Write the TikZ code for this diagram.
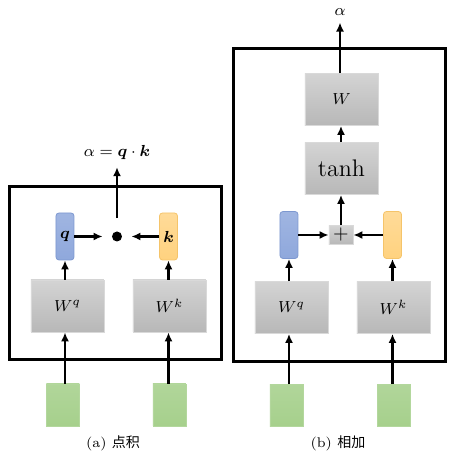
\documentclass[tikz,border=0pt]{standalone}
\usepackage{fontspec}
\usepackage{amsmath,bm}
\newfontfamily\cjk{Noto Sans CJK SC}
\usetikzlibrary{arrows.meta}
\definecolor{qblue}{HTML}{8FA8DC}
\definecolor{qblueline}{HTML}{7D98D0}
\definecolor{kyellow}{HTML}{FFD27F}
\definecolor{kyellowline}{HTML}{F5C46A}
\definecolor{xgreen}{HTML}{A6D08C}
\tikzset{
	wbox/.style={draw=black!15, top color=black!17, bottom color=black!28, minimum width=36.5pt, minimum height=26pt, inner sep=0pt, font=\footnotesize},
	vecq/.style={draw=qblueline, top color=qblue!85, bottom color=qblue, rounded corners=1.5pt, minimum width=9pt, minimum height=23.5pt, inner sep=0pt, font=\footnotesize},
	veck/.style={draw=kyellowline, top color=kyellow!80, bottom color=kyellow, rounded corners=1.5pt, minimum width=9pt, minimum height=23.5pt, inner sep=0pt, font=\footnotesize},
	inbox/.style={draw=xgreen!85, top color=xgreen!88, bottom color=xgreen, minimum width=16.5pt, minimum height=21pt, inner sep=0pt},
	frame/.style={draw, line width=1.5pt},
	link/.style={line width=1.1pt, -{Latex[length=4.5pt,width=4pt]}}
}
\begin{document}
\begin{tikzpicture}[x=0.5pt, y=-0.5pt]
	\useasboundingbox (0,0) rectangle (468,459);
	% (a) dot product
	\draw[frame] (10,187) rectangle (222,360);
	\node[inbox] (xqa) at (63,405) {};
	\node[inbox] (xka) at (169.5,405) {};
	\node[wbox] (wqa) at (67.5,306) {$W^q$};
	\node[wbox] (wka) at (169.5,306) {$W^k$};
	\node[vecq] (qa) at (65,236.5) {$\bm{q}$};
	\node[veck] (ka) at (168.5,236.5) {$\bm{k}$};
	\node[circle, fill, inner sep=0pt, minimum size=5pt] (dota) at (117,236.5) {};
	\node[font=\footnotesize] (alphaa) at (117,153) {$\alpha=\bm{q}\cdot\bm{k}$};
	\node[font=\scriptsize] (capa) at (113,443) {(a) {\cjk 点积}};
	\draw[link] (xqa.north -| qa) -- (wqa.south -| qa);
	\draw[link] (xka.north -| ka) -- (wka.south -| ka);
	\draw[link] (wqa.north -| qa) -- (qa.south);
	\draw[link] (wka.north -| ka) -- (ka.south);
	\draw[link, shorten >=4.5pt] (qa.east) -- (dota.west);
	\draw[link, shorten >=4.5pt] (ka.west) -- (dota.east);
	\draw[link, shorten <=6.5pt] (dota.north) -- (alphaa.south);
	% (b) additive
	\draw[frame] (234,49) rectangle (446,362);
	\node[inbox] (xqb) at (286.5,405.5) {};
	\node[inbox] (xkb) at (394,405.5) {};
	\node[wbox] (wqb) at (291.5,307.5) {$W^q$};
	\node[wbox] (wkb) at (393.5,307.5) {$W^k$};
	\node[vecq] (qb) at (289,235) {};
	\node[veck] (kb) at (392.5,235) {};
	\node[draw=black!15, top color=black!17, bottom color=black!28, minimum width=12pt, minimum height=9.5pt, inner sep=0pt] (plusb) at (341,235) {$+$};
	\node[wbox, font=\large] (tanhb) at (341.5,168.5) {tanh};
	\node[wbox] (wb) at (341.5,99.5) {$W$};
	\node[font=\footnotesize] (alphab) at (340,12) {$\alpha$};
	\node[font=\scriptsize] (capb) at (338,443) {(b) {\cjk 相加}};
	\draw[link] (xqb.north -| qb) -- (wqb.south -| qb);
	\draw[link] (xkb.north -| kb) -- (wkb.south -| kb);
	\draw[link] (wqb.north -| qb) -- (qb.south);
	\draw[link] (wkb.north -| kb) -- (kb.south);
	\draw[link] (qb.east) -- (plusb.west);
	\draw[link] (kb.west) -- (plusb.east);
	\draw[link] (plusb.north) -- (tanhb.south -| plusb);
	\draw[link] (tanhb.north -| plusb) -- (wb.south -| plusb);
	\draw[link] (wb.north -| alphab) -- (alphab.south);
\end{tikzpicture}
\end{document}
